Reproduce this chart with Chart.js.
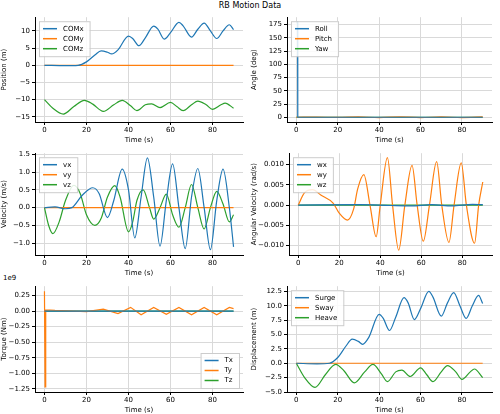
<!DOCTYPE html>
<html>
<head>
<meta charset="utf-8">
<script src="https://cdn.jsdelivr.net/npm/chart.js@4.4.0/dist/chart.umd.min.js"></script>
<style>
  body { margin: 0; background: #fff; font-family: "DejaVu Sans", sans-serif; }
  #wrap { position: relative; width: 500px; height: 414px; overflow: hidden; }
  canvas { position: absolute; }
  .txt { position: absolute; font-size: 8px; color: #000; }
</style>
</head>
<body>
<div id="wrap">
  <div class="txt" style="left:0;width:500px;top:1px;text-align:center">RB Motion Data</div>
  <div class="txt" style="left:3px;top:274px;font-size:7px">1e9</div>
</div>
<script>
// valores (tempo em s)
const posXTime = [0, 10, 16, 20, 24, 27, 30, 32, 35, 40, 42, 45, 48, 52, 54, 57, 60, 64, 66, 70, 73, 76, 79, 82, 85, 88, 90];
const posX = [0, -0.1, 0, 1, 3, 4.2, 3.8, 3.3, 4.5, 8.5, 7.8, 5.7, 8, 11.4, 10.5, 7.6, 9.5, 12.5, 11.5, 8.2, 10.5, 12.3, 10, 7.8, 10, 11.8, 10.4];
const posZTime = [0, 4, 9, 14, 19, 23, 28, 33, 37, 41, 44, 48, 51, 55, 60, 63, 66, 70, 73, 77, 80, 84, 86, 90];
const posZ = [-10, -12.5, -14.2, -12, -10.2, -11.3, -13.4, -11.5, -10.2, -11.8, -13.2, -11.5, -11.2, -12.3, -10.8, -12, -13.2, -11.5, -10.4, -11.5, -12.8, -11.5, -11, -12.5];
const flatTime = [0, 90];
const flatZero = [0, 0];

const rollTime = [0, 0.6, 0.7, 90];
const roll = [180, 180, 0, 0];
const pitchTime = [0, 10, 20, 30, 40, 50, 60, 70, 80, 90];
const pitch = [0, 0.3, -0.3, 0.5, -0.6, 0.7, -0.6, 0.6, -0.6, 0.5];

const vxTime = [0, 5, 10, 13, 18, 23, 26, 30, 33, 37, 40, 43, 46, 49, 52, 55, 58, 61, 64, 67, 70, 73, 76, 79, 82, 85, 88, 90];
const vx = [0, 0.02, -0.03, 0, 0.35, 0.56, 0.4, -0.28, 0.2, 1.08, 0.5, -0.85, 0.3, 1.4, 0.3, -1.08, 0.2, 1.23, 0, -1.15, 0.3, 1.1, 0, -1.18, 0.2, 1.08, 0, -1.1];
const vzTime = [0, 2, 4, 7, 10, 14, 17, 20, 24, 27, 30, 33.5, 36, 40, 42, 44, 47, 50, 52, 55, 58, 61, 64, 67, 70, 73, 76, 79, 82, 85, 88, 90];
const vz = [0, -0.5, -0.73, -0.4, 0.2, 0.63, 0.4, -0.2, -0.5, -0.3, 0.3, 0.62, 0.3, -0.68, -0.4, 0.2, 0.5, 0, -0.32, 0, 0.38, -0.2, -0.55, 0, 0.65, 0, -0.6, 0, 0.46, 0.1, -0.4, -0.2];

const wyTime = [0, 3, 7, 11, 17, 20, 24, 27, 29, 32, 35, 38, 40, 43.5, 46, 49, 52, 55.5, 58, 61, 64, 67.5, 70, 73.5, 76, 79.5, 82, 86, 88, 90];
const wy = [0, 0.003, 0.0038, 0.0025, 0.0005, -0.002, -0.0037, -0.001, 0.004, 0.0075, 0, -0.0078, 0, 0.0117, 0, -0.0111, 0, 0.0098, 0, -0.0089, 0, 0.0107, 0, -0.0092, 0, 0.0104, 0, -0.0094, 0, 0.0057];
const wxTime = [0, 30, 45, 55, 65, 75, 85, 90];
const wx = [0, 0.0001, -0.0001, -0.0002, 0.0001, -0.0002, 0.0002, 0.0001];

const tyTime = [0, 0.3, 0.6, 5, 20, 28, 35, 41, 46, 52, 58, 64, 70, 76, 82, 88, 90];
const ty = [0.32, -1.22, 0.02, 0.01, -0.01, 0.03, -0.04, 0.06, -0.06, 0.06, -0.05, 0.06, -0.06, 0.06, -0.06, 0.06, 0.04];

const heave = posZ.map(v => v + 10);

const C = ['#1f77b4', '#ff7f0e', '#2ca02c'];

// legenda dentro do gráfico
const boxLegend = {
  id: 'boxLegend',
  afterDraw(chart, args, opts) {
    const ctx = chart.ctx, a = chart.chartArea;
    const ds = chart.data.datasets;
    ctx.save();
    ctx.font = '7px "DejaVu Sans"';
    let tw = Math.max(...ds.map(d => ctx.measureText(d.label).width));
    const w = tw + 30, h = ds.length * 10 + 5;
    let x = a.left + 4, y = a.top + 4;
    if (opts.pos === 'br') { x = a.right - w - 4; y = a.bottom - h - 4; }
    ctx.fillStyle = 'rgba(255,255,255,0.85)';
    ctx.strokeStyle = '#ccc';
    ctx.fillRect(x, y, w, h);
    ctx.strokeRect(x + 0.5, y + 0.5, w, h);
    ds.forEach((d, i) => {
      const yy = y + 7.5 + i * 10;
      ctx.strokeStyle = d.borderColor; ctx.lineWidth = 1.5;
      ctx.beginPath(); ctx.moveTo(x + 4, yy); ctx.lineTo(x + 18, yy); ctx.stroke();
      ctx.fillStyle = '#000'; ctx.textBaseline = 'middle';
      ctx.fillText(d.label, x + 24, yy);
    });
    ctx.restore();
  }
};

function makeChart(cfg) {
  const yw = cfg.yw, xh = 22;
  const cv = document.createElement('canvas');
  const W = cfg.w + yw + 4, H = cfg.h + 4 + xh;
  cv.style.left = (cfg.left - yw) + 'px';
  cv.style.top = (cfg.top - 4) + 'px';
  cv.style.width = W + 'px'; cv.style.height = H + 'px';
  cv.width = W; cv.height = H;
  document.getElementById('wrap').appendChild(cv);
  const f = { size: 7, family: 'DejaVu Sans' };
  new Chart(cv.getContext('2d'), {
    type: 'line',
    data: {
      datasets: cfg.series.map((s, i) => ({
        label: s.label,
        data: s.t.map((t, j) => ({ x: t, y: s.v[j] })),
        borderColor: C[i], borderWidth: 1.2, pointRadius: 0,
        cubicInterpolationMode: s.sharp ? 'default' : 'monotone',
        tension: 0
      }))
    },
    options: {
      responsive: false, animation: false,
      layout: { padding: { top: 4, right: 4, left: 0, bottom: 0 } },
      plugins: { legend: { display: false }, tooltip: { enabled: false }, boxLegend: { pos: cfg.legendPos || 'tl' } },
      scales: {
        x: {
          type: 'linear', min: -4.5, max: 94.5,
          afterBuildTicks: ax => { ax.ticks = [0, 20, 40, 60, 80].map(v => ({ value: v })); },
          afterFit: ax => { ax.height = xh; },
          ticks: { font: f, color: '#000', padding: 1, maxRotation: 0 },
          grid: { color: '#d9d9d9', tickLength: 3, tickColor: '#000' },
          border: { color: '#000' },
          title: { display: true, text: 'Time (s)', font: f, color: '#000', padding: 0 }
        },
        y: {
          min: cfg.ymin, max: cfg.ymax,
          afterBuildTicks: ax => { ax.ticks = cfg.yticks.map(v => ({ value: v })); },
          afterFit: ax => { ax.width = yw; },
          ticks: { font: f, color: '#000', padding: 2, callback: v => v.toFixed(cfg.dec).replace('-', '−') },
          grid: { color: '#d9d9d9', tickLength: 3, tickColor: '#000' },
          border: { color: '#000' },
          title: { display: true, text: cfg.ytitle, font: f, color: '#000', padding: 0 }
        }
      }
    },
    plugins: [boxLegend]
  });
}

makeChart({ left: 35, top: 15, w: 208, h: 107, yw: 35, ymin: -16.5, ymax: 14, yticks: [-15, -10, -5, 0, 5, 10], dec: 0, ytitle: 'Position (m)',
  series: [{ label: 'COMx', t: posXTime, v: posX }, { label: 'COMy', t: flatTime, v: flatZero }, { label: 'COMz', t: posZTime, v: posZ }] });
makeChart({ left: 287, top: 15, w: 205, h: 107, yw: 37, ymin: -9, ymax: 189, yticks: [0, 25, 50, 75, 100, 125, 150, 175], dec: 0, ytitle: 'Angle (deg)',
  series: [{ label: 'Roll', t: rollTime, v: roll, sharp: true }, { label: 'Pitch', t: pitchTime, v: pitch }, { label: 'Yaw', t: flatTime, v: flatZero }] });
makeChart({ left: 35, top: 151, w: 208, h: 104, yw: 35, ymin: -1.33, ymax: 1.53, yticks: [-1, -0.5, 0, 0.5, 1, 1.5], dec: 1, ytitle: 'Velocity (m/s)',
  series: [{ label: 'vx', t: vxTime, v: vx }, { label: 'vy', t: flatTime, v: flatZero }, { label: 'vz', t: vzTime, v: vz }] });
makeChart({ left: 289, top: 151, w: 203, h: 104, yw: 39, ymin: -0.0123, ymax: 0.0128, yticks: [-0.01, -0.005, 0, 0.005, 0.01], dec: 3, ytitle: 'Angular Velocity (rad/s)',
  series: [{ label: 'wx', t: wxTime, v: wx }, { label: 'wy', t: wyTime, v: wy }, { label: 'wz', t: flatTime, v: flatZero }] });
makeChart({ left: 35, top: 284, w: 208, h: 108, yw: 35, ymin: -1.3, ymax: 0.4, yticks: [-1.25, -1, -0.75, -0.5, -0.25, 0, 0.25], dec: 2, ytitle: 'Torque (Nm)', legendPos: 'br',
  series: [{ label: 'Tx', t: flatTime, v: flatZero }, { label: 'Ty', t: tyTime, v: ty, sharp: true }, { label: 'Tz', t: flatTime, v: flatZero }] });
makeChart({ left: 287, top: 284, w: 205, h: 108, yw: 37, ymin: -5.0, ymax: 13.4, yticks: [-5, -2.5, 0, 2.5, 5, 7.5, 10, 12.5], dec: 1, ytitle: 'Displacement (m)',
  series: [{ label: 'Surge', t: posXTime, v: posX }, { label: 'Sway', t: flatTime, v: flatZero }, { label: 'Heave', t: posZTime, v: heave }] });
</script>
</body>
</html>
